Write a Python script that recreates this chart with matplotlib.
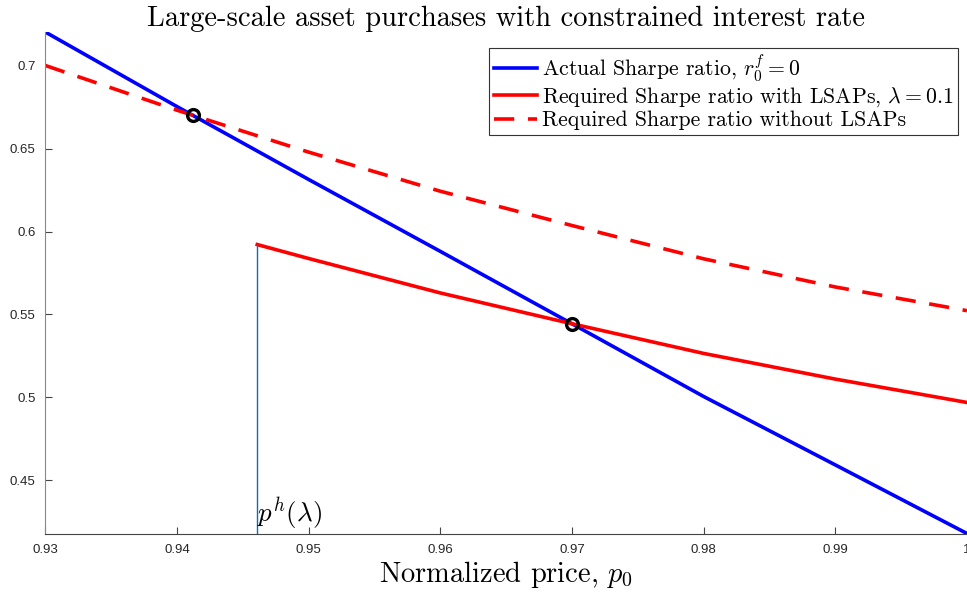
import matplotlib
matplotlib.use("Agg")
import matplotlib.pyplot as plt

# values
price = [0.93, 0.94, 0.95, 0.96, 0.97, 0.98, 0.99, 1.00]
actual_sr = [0.7205, 0.6755, 0.6315, 0.5881, 0.5444, 0.5005, 0.4592, 0.4178]
req_no_lsap = [0.7003, 0.6733, 0.6480, 0.6244, 0.6037, 0.5836, 0.5666, 0.5523]

price_lsap = [0.9461, 0.95, 0.96, 0.97, 0.98, 0.99, 1.00]
req_lsap = [0.5922, 0.5838, 0.5630, 0.5444, 0.5265, 0.5110, 0.4969]

p_h = 0.9461
cross_x = [0.9412, 0.97]
cross_y = [0.6702, 0.5444]

plt.rcParams['mathtext.fontset'] = 'cm'
serif = 'cmr10'

fig = plt.figure(figsize=(9.67, 5.98), dpi=100)
ax = fig.add_axes([0.0468, 0.107, 1.0 - 0.0468, 0.8395])

ax.plot(price, actual_sr, color='#0000ff', lw=2.6, label=r'Actual Sharpe ratio, $r_0^f = 0$')
ax.plot(price_lsap, req_lsap, color='#ff0000', lw=2.6,
        label=r'Required Sharpe ratio with LSAPs, $\lambda = 0.1$')
ax.plot(price, req_no_lsap, color='#ff0000', lw=2.6, ls=(0, (5.6, 3.8)),
        label='Required Sharpe ratio without LSAPs')

ymin, ymax = 0.4175, 0.7205
ax.plot([p_h, p_h], [ymin, req_lsap[0]], color=(0, 0.447, 0.741), lw=1.0)
ax.plot(cross_x, cross_y, 'o', color='black', mfc='none', ms=8.5, mew=2.4)

ax.text(p_h, ymin + 0.001, r'$p^h(\lambda)$', fontsize=19.5, ha='left', va='bottom')

ax.set_xlim(0.93, 1.0)
ax.set_ylim(ymin, ymax)
ax.set_xticks([0.93, 0.94, 0.95, 0.96, 0.97, 0.98, 0.99, 1.0])
ax.set_xticklabels(['0.93', '0.94', '0.95', '0.96', '0.97', '0.98', '0.99', '1'])
ax.set_yticks([0.45, 0.5, 0.55, 0.6, 0.65, 0.7])
ax.set_yticklabels(['0.45', '0.5', '0.55', '0.6', '0.65', '0.7'])

for s in ['top', 'right']:
    ax.spines[s].set_visible(False)
ax.spines['left'].set_color('#888888')
ax.spines['bottom'].set_color('#444444')
ax.tick_params(direction='in', length=5, width=0.8, colors='#444444',
               labelsize=9.5, labelcolor='#262626', pad=7)
for lbl in ax.get_xticklabels() + ax.get_yticklabels():
    lbl.set_fontfamily('Liberation Sans')

ax.set_title('Large-scale asset purchases with constrained interest rate',
             family=serif, fontsize=20.5, pad=3)
ax.set_xlabel(r'Normalized price, $p_0$', family=serif, fontsize=20.5, labelpad=2)

leg = ax.legend(loc='upper right', bbox_to_anchor=(0.99, 0.969), prop={'family': serif, 'size': 15.7},
                fancybox=False, edgecolor='#333333', framealpha=1, handlelength=2.0,
                handletextpad=0.2, borderpad=0.22, labelspacing=0.08, borderaxespad=0)
leg.get_frame().set_linewidth(0.8)

fig.savefig('out.png', dpi=100)
